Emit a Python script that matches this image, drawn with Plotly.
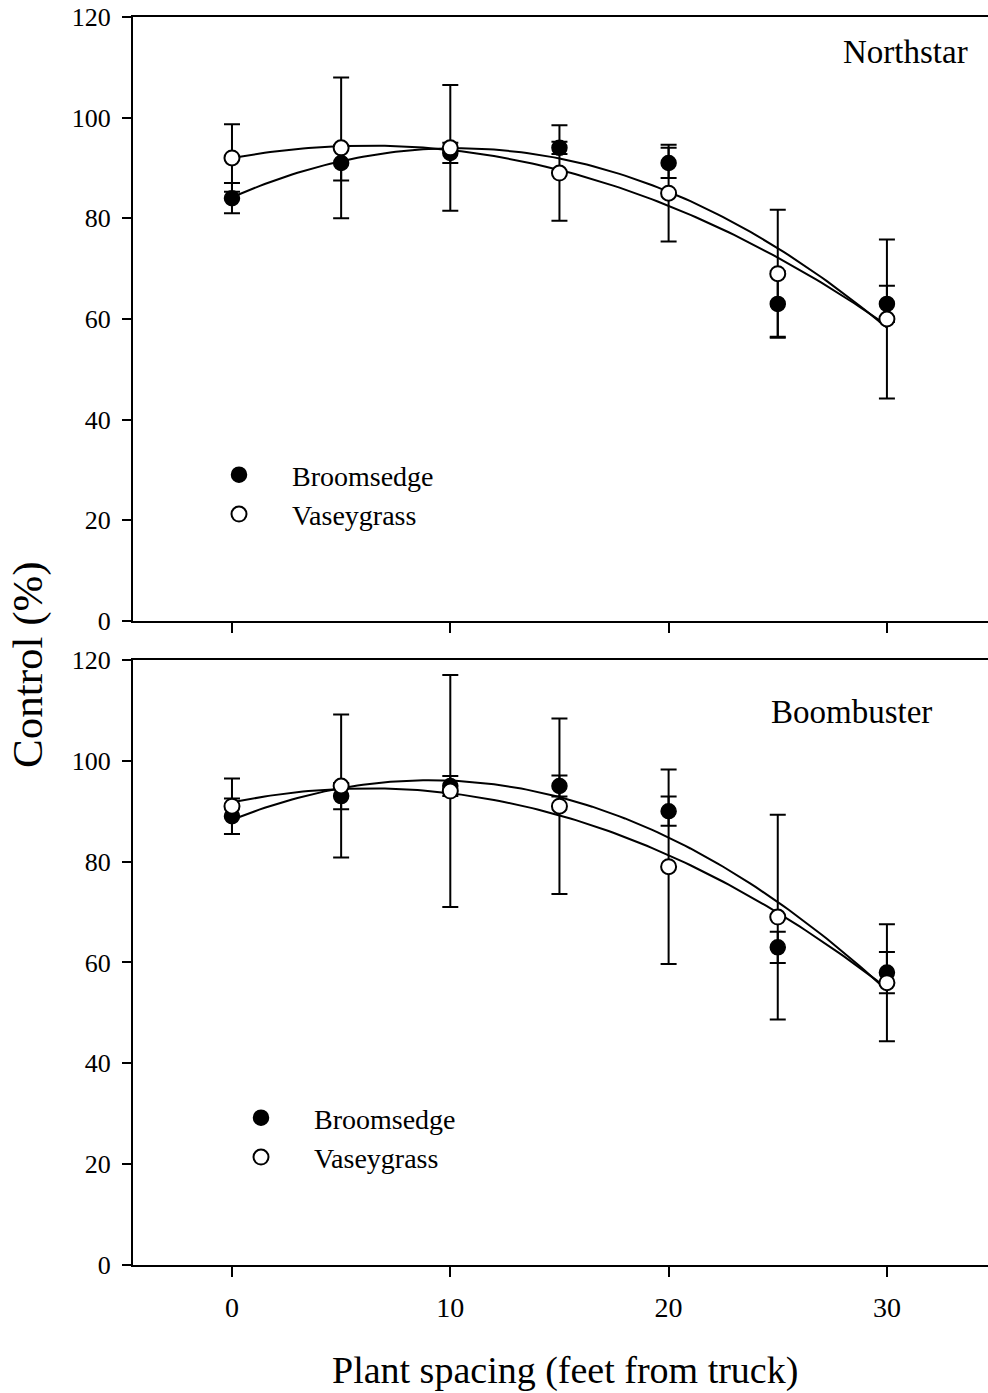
import numpy as np
import plotly.graph_objects as go

# ---- data ----
spacing = [0, 5, 10, 15, 20, 25, 30]

north_broom = [84, 91, 93, 94, 91, 63, 63]
north_broom_err = [3, 3.5, 2, 1.2, 3, 6.5, 3.6]
north_vasey = [92, 94, 94, 89, 85, 69, 60]
north_vasey_err = [6.7, 14, 12.5, 9.5, 9.6, 12.7, 15.8]

boom_broom = [89, 93, 95, 95, 90, 63, 58]
boom_broom_err = [3.5, 2.6, 2, 2.1, 2.9, 3.1, 4.1]
boom_vasey = [91, 95, 94, 91, 79, 69, 56]
boom_vasey_err = [5.5, 14.2, 23, 17.4, 19.3, 20.3, 11.6]

y_ticks = [0, 20, 40, 60, 80, 100, 120]
x_ticks = [0, 10, 20, 30]

FONT = "Liberation Serif"

fig = go.Figure()

def fit_curve(x, y):
    c = np.polyfit(x, y, 2)
    xs = np.linspace(min(x), max(x), 121)
    return xs, np.polyval(c, xs)

def add_panel(broom, broom_err, vasey, vasey_err, xa, ya, legend):
    for ys in (broom, vasey):
        xs, yf = fit_curve(spacing, ys)
        fig.add_trace(go.Scatter(x=xs, y=yf, mode="lines", xaxis=xa, yaxis=ya,
                                 line=dict(color="black", width=2),
                                 showlegend=False, hoverinfo="skip"))
    fig.add_trace(go.Scatter(x=spacing, y=broom, mode="markers", name="Broomsedge",
                             xaxis=xa, yaxis=ya, legend=legend,
                             marker=dict(symbol="circle", size=15, color="black",
                                         line=dict(color="black", width=1.5)),
                             error_y=dict(type="data", array=broom_err, visible=True,
                                          color="black", thickness=2, width=8)))
    fig.add_trace(go.Scatter(x=spacing, y=vasey, mode="markers", name="Vaseygrass",
                             xaxis=xa, yaxis=ya, legend=legend,
                             marker=dict(symbol="circle", size=15, color="white",
                                         line=dict(color="black", width=2)),
                             error_y=dict(type="data", array=vasey_err, visible=True,
                                          color="black", thickness=2, width=8)))

add_panel(north_broom, north_broom_err, north_vasey, north_vasey_err, "x", "y", "legend")
add_panel(boom_broom, boom_broom_err, boom_vasey, boom_vasey_err, "x2", "y2", "legend2")

xr = [-4.534, 34.63]
common_x = dict(range=xr, tickvals=x_ticks, ticks="outside", ticklen=10, tickwidth=2,
                tickcolor="black", showline=True, linecolor="black", linewidth=2,
                mirror=True, showgrid=False, zeroline=False)
ytickfont = dict(family=FONT, size=26, color="black")
common_y = dict(range=[0, 120], tickvals=y_ticks, ticks="outside", ticklen=9, tickwidth=2,
                tickcolor="black", showline=True, linecolor="black", linewidth=2,
                showgrid=False, zeroline=False, ticklabelstandoff=6)

fig.update_layout(
    width=988, height=1393,
    margin=dict(l=133, r=0, t=17, b=128),
    plot_bgcolor="white", paper_bgcolor="white",
    font=dict(family=FONT, color="black"),
    xaxis=dict(common_x, anchor="y", showticklabels=False),
    yaxis=dict(common_y, domain=[0.516, 1.0], anchor="x", tickfont=ytickfont),
    xaxis2=dict(common_x, anchor="y2", showticklabels=True,
                tickfont=dict(family=FONT, size=28, color="black"),
                ticklabelstandoff=6),
    yaxis2=dict(common_y, domain=[0.0, 0.4848], anchor="x2", tickfont=ytickfont),
    legend=dict(x=(239 - 133 - 53) / 855, y=(1265 - 450) / 1248, xanchor="left", yanchor="top",
                font=dict(family=FONT, size=28, color="black"), itemwidth=96,
                bgcolor="rgba(0,0,0,0)", borderwidth=0),
    legend2=dict(x=(261 - 133 - 53) / 855, y=(1265 - 1093) / 1248, xanchor="left", yanchor="top",
                 font=dict(family=FONT, size=28, color="black"), itemwidth=96,
                 bgcolor="rgba(0,0,0,0)", borderwidth=0),
    annotations=[
        dict(text="Northstar", xref="paper", yref="paper", x=(970 - 133) / 855,
             y=(1265 - 52) / 1248, xanchor="right", yanchor="middle", showarrow=False,
             font=dict(family=FONT, size=33, color="black")),
        dict(text="Boombuster", xref="paper", yref="paper", x=(934 - 133) / 855,
             y=(1265 - 712) / 1248, xanchor="right", yanchor="middle", showarrow=False,
             font=dict(family=FONT, size=33, color="black")),
        dict(text="Plant spacing (feet from truck)", xref="paper", yref="paper",
             x=(565 - 133) / 855, y=(1265 - 1370) / 1248, xanchor="center", yanchor="middle",
             showarrow=False, font=dict(family=FONT, size=38, color="black")),
        dict(text="Control (%)", xref="paper", yref="paper", textangle=-90,
             x=(28 - 133) / 855, y=(1265 - 665) / 1248, xanchor="center", yanchor="middle",
             showarrow=False, font=dict(family=FONT, size=43, color="black")),
    ],
)

fig.write_html("out.html")
